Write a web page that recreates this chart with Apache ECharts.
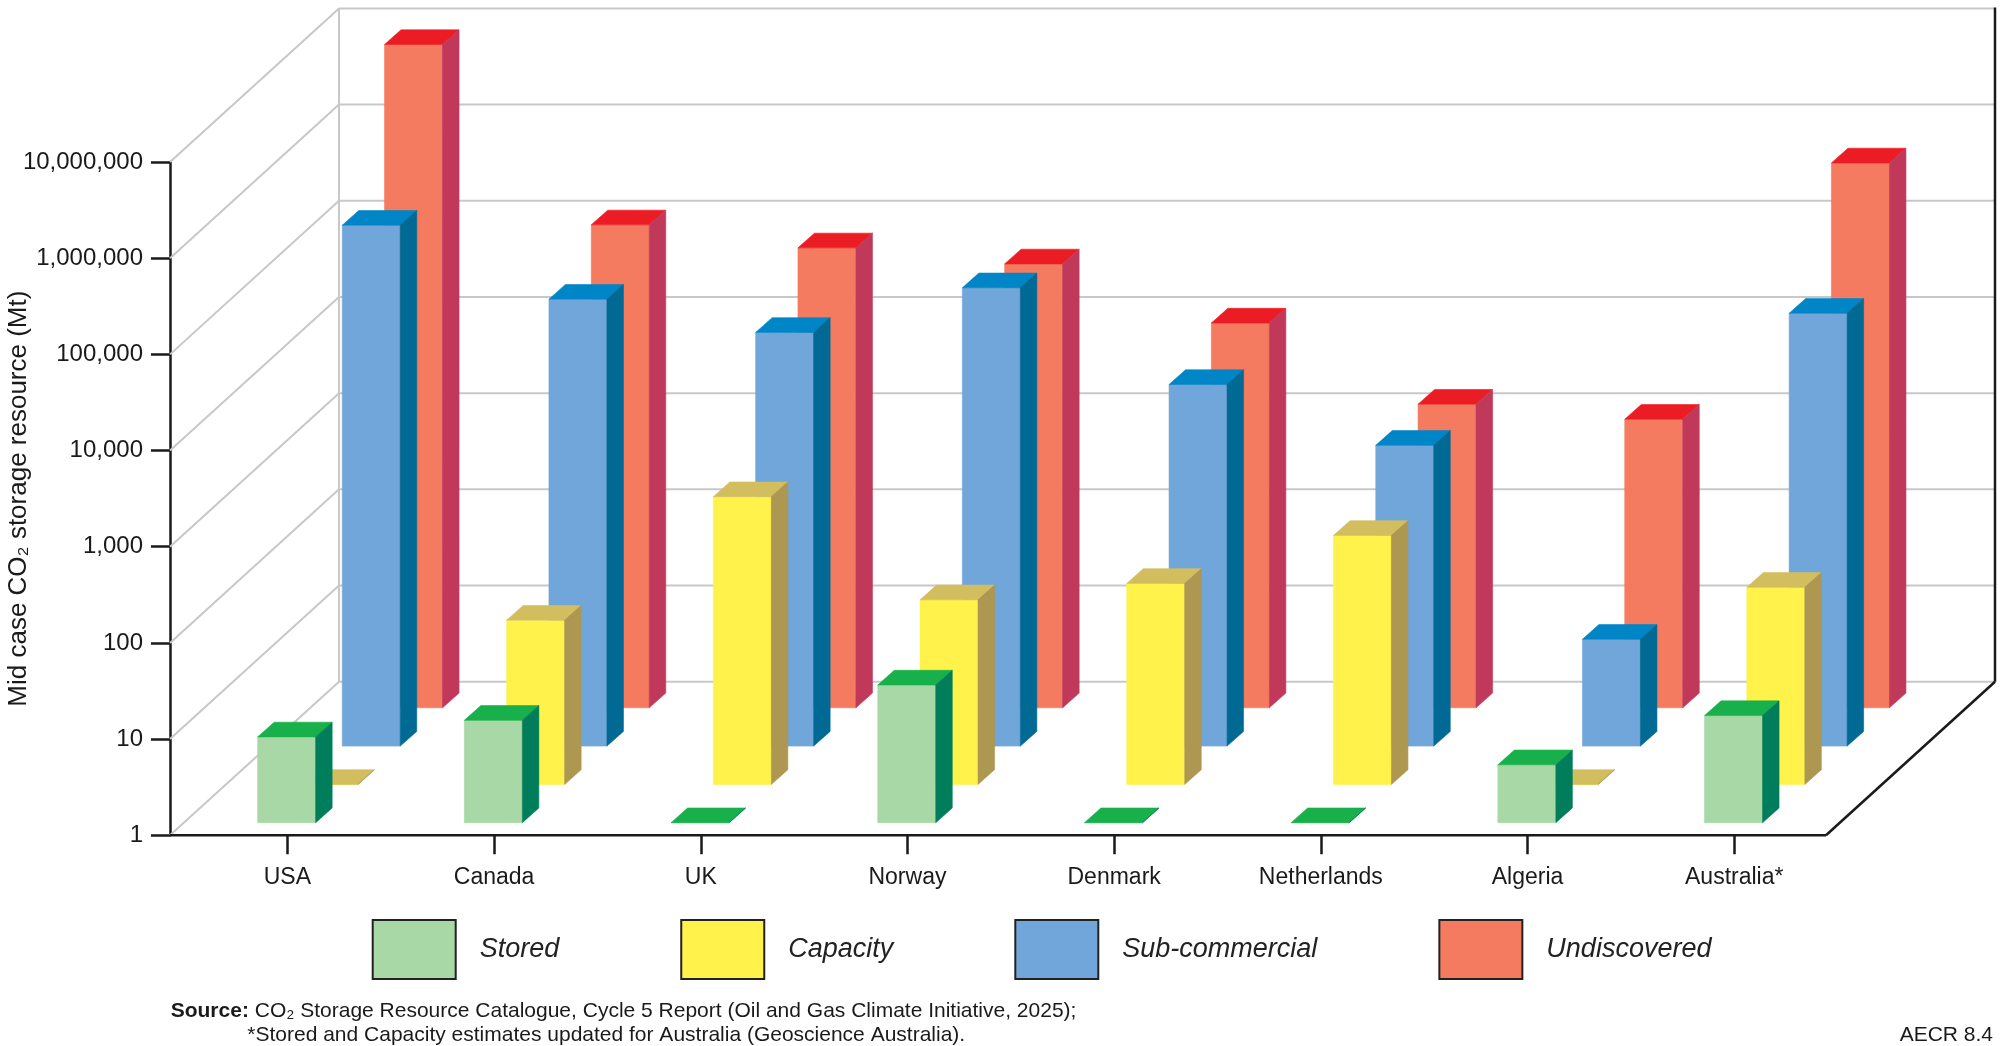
<!DOCTYPE html>
<html>
<head>
<meta charset="utf-8">
<script src="https://cdn.jsdelivr.net/npm/echarts@6/dist/echarts.min.js"></script>
<style>
html,body{margin:0;padding:0;background:#ffffff;}
#chart{width:2000px;height:1046px;}
</style>
</head>
<body>
<div id="chart"></div>
<script>
// ---------- data ----------
const categories = ['USA', 'Canada', 'UK', 'Norway', 'Denmark', 'Netherlands', 'Algeria', 'Australia*'];
const stored        = [7.8, 11.6, 1, 27, 1, 1, 4, 13];
const capacity      = [1, 51, 980, 83, 123, 388, 1, 112];
const subCommercial = [260000, 44300, 20000, 58200, 5750, 1340, 12.9, 31600];
const undiscovered  = [7870000, 105000, 60500, 41200, 10000, 1435, 1000, 462000];
const yTicks = [1, 10, 100, 1000, 10000, 100000, 1000000, 10000000];
const seriesNames = ['Stored', 'Capacity', 'Sub-commercial', 'Undiscovered'];

// ---------- styling ----------
const FONT = 'Liberation Sans, Arial, sans-serif';
const INK = '#1a1a1a';
const palette = {
  'Stored':         { front: '#a8d8a6', top: '#18b04a', side: '#007d5b' },
  'Capacity':       { front: '#fff24a', top: '#d3be5f', side: '#ad9751' },
  'Sub-commercial': { front: '#70a6d9', top: '#0085c7', side: '#006a94' },
  'Undiscovered':   { front: '#f47b5f', top: '#ec1c24', side: '#c0385a' }
};
// pseudo-3D geometry (pixels)
const ROW_DX0 = -0.7, ROW_DX = 42.3, ROW_DY0 = -12.6, ROW_DY = -38.3;
const FACE_W = 58, DEPTH_X = 16.5, DEPTH_Y = -14.7;
const BACK_DX = 169, BACK_DY = -153.6;

function poly(points, color) {
  return { type: 'polygon', shape: { points: points },
           style: { fill: color, stroke: color, lineWidth: 0.6 } };
}

function barRenderer(row, colors) {
  return function (params, api) {
    const i = api.value(0), v = api.value(1);
    const t = api.coord([i, v]);
    const b = api.coord([i, 1]);
    const x0 = t[0] + ROW_DX0 + ROW_DX * row - FACE_W / 2;
    const x1 = x0 + FACE_W;
    const yt = t[1] + ROW_DY0 + ROW_DY * row;
    const yb = b[1] + ROW_DY0 + ROW_DY * row;
    return { type: 'group', children: [
      poly([[x0, yt], [x1, yt], [x1, yb], [x0, yb]], colors.front),
      poly([[x0, yt], [x1, yt], [x1 + DEPTH_X, yt + DEPTH_Y], [x0 + DEPTH_X, yt + DEPTH_Y]], colors.top),
      poly([[x1, yt], [x1 + DEPTH_X, yt + DEPTH_Y], [x1 + DEPTH_X, yb + DEPTH_Y], [x1, yb]], colors.side)
    ]};
  };
}

function frameRenderer(params, api) {
  const band = api.size([1, 0])[0];
  const c0 = api.coord([0, 1]);
  const cN = api.coord([categories.length - 1, 1]);
  const FL = c0[0] - band / 2 - 14;
  const FR = cN[0] + band / 2 - 11.6;
  const ys = yTicks.map(function (tv) { return api.coord([0, tv])[1]; });
  const y0 = ys[0], yTop = ys[ys.length - 1];
  const gray = { stroke: '#c8c8c8', lineWidth: 2 };
  const black = { stroke: INK, lineWidth: 2.5 };
  const kids = [];
  ys.forEach(function (y) {
    kids.push({ type: 'line', shape: { x1: FL, y1: y, x2: FL + BACK_DX, y2: y + BACK_DY }, style: gray });
    kids.push({ type: 'line', shape: { x1: FL + BACK_DX, y1: y + BACK_DY, x2: FR + BACK_DX, y2: y + BACK_DY }, style: gray });
  });
  kids.push({ type: 'line', shape: { x1: FL + BACK_DX, y1: y0 + BACK_DY, x2: FL + BACK_DX, y2: yTop + BACK_DY }, style: gray });
  kids.push({ type: 'line', shape: { x1: FL, y1: y0, x2: FR, y2: y0 }, style: black });
  kids.push({ type: 'line', shape: { x1: FR, y1: y0, x2: FR + BACK_DX, y2: y0 + BACK_DY }, style: black });
  kids.push({ type: 'line', shape: { x1: FR + BACK_DX, y1: y0 + BACK_DY, x2: FR + BACK_DX, y2: yTop + BACK_DY - 1 }, style: black });
  return { type: 'group', children: kids };
}

const rowValues = { 'Stored': stored, 'Capacity': capacity, 'Sub-commercial': subCommercial, 'Undiscovered': undiscovered };

const barSeries = seriesNames.map(function (name, row) {
  return {
    type: 'custom', name: name, clip: false,
    renderItem: barRenderer(row, palette[name]),
    itemStyle: { color: palette[name].front },
    encode: { x: 0, y: 1 },
    data: rowValues[name].map(function (v, i) { return [i, v]; }),
    z: 3 + (3 - row)
  };
}).reverse(); // draw back rows first

const chart = echarts.init(document.getElementById('chart'), null, { renderer: 'canvas' });
chart.setOption({
  animation: false,
  backgroundColor: '#ffffff',
  textStyle: { fontFamily: FONT },
  grid: { left: 184, right: 162.4, top: 162, bottom: 210.7, containLabel: false, outerBoundsMode: 'none' },
  xAxis: {
    type: 'category', data: categories,
    axisLine: { show: false },
    axisTick: { show: true, alignWithLabel: true, length: 19, lineStyle: { color: INK, width: 2.5 } },
    axisLabel: { fontSize: 23, color: INK, margin: 31, fontFamily: FONT },
    splitLine: { show: false }
  },
  yAxis: {
    type: 'log', logBase: 10, min: 1, max: 10000000, splitNumber: 7, offset: 14,
    axisLine: { show: true, lineStyle: { color: INK, width: 2.5 } },
    axisTick: { show: true, length: 19, lineStyle: { color: INK, width: 2.5 } },
    minorTick: { show: false },
    axisLabel: { fontSize: 24, color: INK, margin: 27, fontFamily: FONT,
      formatter: function (v) { return Math.round(v).toLocaleString('en-US'); } },
    splitLine: { show: false },
    name: 'Mid case CO\u2082 storage resource (Mt)',
    nameLocation: 'middle', nameRotate: 90, nameGap: 138, nameMoveOverlap: false,
    nameTextStyle: { fontSize: 26, color: INK, fontFamily: FONT }
  },
  legend: {
    left: 371.7, top: 919, padding: 0, icon: 'rect', itemWidth: 83, itemHeight: 59, itemGap: 121,
    selectedMode: false,
    textStyle: { fontSize: 27, fontStyle: 'italic', color: '#222', fontFamily: FONT, padding: [0, 0, 0, 19] },
    data: seriesNames.map(function (n) {
      return { name: n, itemStyle: { color: palette[n].front, borderColor: '#222', borderWidth: 2 } };
    })
  },
  graphic: [
    { type: 'text', left: 170.7, top: 1001,
      style: { text: '{b|Source:} CO\u2082 Storage Resource Catalogue, Cycle 5 Report (Oil and Gas Climate Initiative, 2025);',
               fontSize: 21, fill: INK, fontFamily: FONT,
               rich: { b: { fontWeight: 'bold', fontSize: 21, fontFamily: FONT, fill: INK } } } },
    { type: 'text', left: 247.3, top: 1025,
      style: { text: '*Stored and Capacity estimates updated for Australia (Geoscience Australia).',
               fontSize: 21, fill: INK, fontFamily: FONT } },
    { type: 'text', right: 7, top: 1025,
      style: { text: 'AECR 8.4', fontSize: 21, fill: INK, fontFamily: FONT } }
  ],
  series: [
    { type: 'custom', name: 'frame', clip: false, silent: true, z: 1,
      renderItem: frameRenderer, encode: { x: 0, y: 1 }, data: [[0, 1]] }
  ].concat(barSeries)
});
</script>
</body>
</html>
